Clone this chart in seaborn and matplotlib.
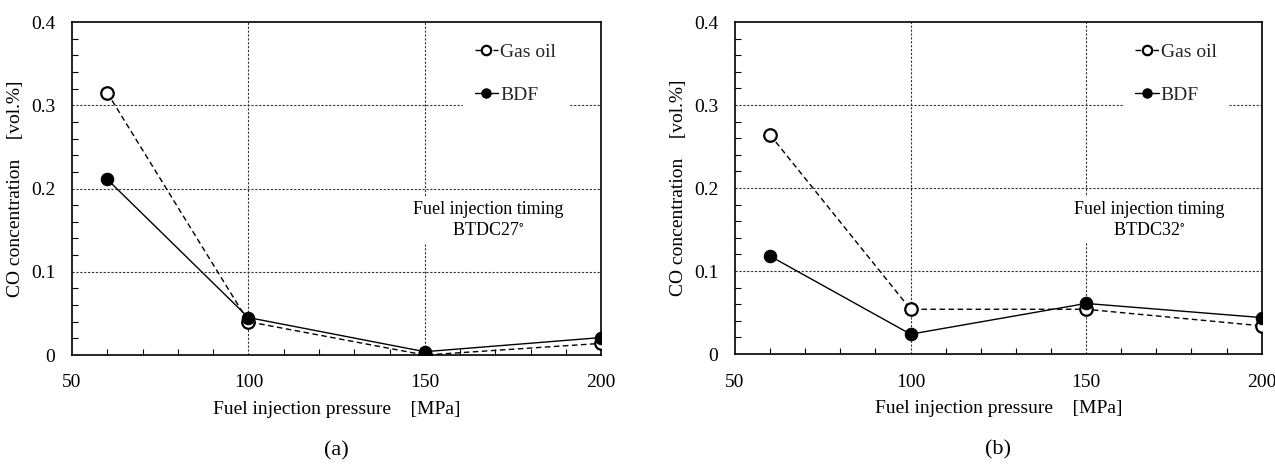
import matplotlib
matplotlib.use("Agg")
import matplotlib.pyplot as plt
import seaborn as sns
import pandas as pd
from matplotlib.ticker import MultipleLocator

sns.set_theme(style="white")
plt.rcParams['font.family'] = ['Liberation Serif', 'DejaVu Serif']
plt.rcParams['mathtext.fontset'] = 'stix'

pressure = [60, 100, 150, 200]
gas_oil_a = [0.315, 0.040, 0.000, 0.014]
bdf_a = [0.211, 0.045, 0.004, 0.021]
gas_oil_b = [0.264, 0.054, 0.054, 0.034]
bdf_b = [0.118, 0.024, 0.061, 0.044]
panel_labels = ["(a)", "(b)"]
timing_labels = ["Fuel injection timing\nBTDC27$^{\\circ}$", "Fuel injection timing\nBTDC32$^{\\circ}$"]
xlabel = "Fuel injection pressure    [MPa]"
ylabel = "CO concentration    [vol.%]"

fig = plt.figure(figsize=(12.75, 4.69), dpi=100)
ax_a = fig.add_axes([0.0565, 0.243, 0.415, 0.71])
ax_b = fig.add_axes([0.5765, 0.245, 0.413, 0.708])

grid_style = dict(color="#333333", ls=(0, (2, 1.5)), lw=0.8, zorder=0)

panels = [(ax_a, gas_oil_a, bdf_a), (ax_b, gas_oil_b, bdf_b)]
for i, (ax, go, bd) in enumerate(panels):
    df_go = pd.DataFrame({"x": pressure, "y": go})
    df_bd = pd.DataFrame({"x": pressure, "y": bd})
    for yv in [0.1, 0.2, 0.3]:
        ax.axhline(yv, **grid_style)
    for xv in [100, 150]:
        ax.axvline(xv, **grid_style)
    sns.lineplot(data=df_go, x="x", y="y", ax=ax, color="black", lw=1.0,
                 linestyle=(0, (4, 2.5)), marker="o", markersize=9,
                 markerfacecolor="white", markeredgecolor="black",
                 markeredgewidth=1.6, label="Gas oil", zorder=3)
    sns.lineplot(data=df_bd, x="x", y="y", ax=ax, color="black", lw=1.0,
                 marker="o", markersize=9, markerfacecolor="black",
                 markeredgecolor="black", label="BDF", zorder=4)
    ax.set_xlim(50, 200)
    ax.set_ylim(0, 0.4)
    ax.set_xticks([50, 100, 150, 200])
    ax.set_xticklabels(["50", "100", "150", "200"])
    ax.set_yticks([0, 0.1, 0.2, 0.3, 0.4])
    ax.set_yticklabels(["0", "0.1", "0.2", "0.3", "0.4"])
    ax.xaxis.set_minor_locator(MultipleLocator(10))
    ax.yaxis.set_minor_locator(MultipleLocator(0.02))
    ax.tick_params(axis="both", which="both", direction="in", color="black",
                   labelsize=14, labelcolor="black")
    ax.tick_params(axis="x", which="major", length=0, pad=14)
    ax.tick_params(axis="y", which="major", length=0, pad=12)
    ax.tick_params(which="minor", length=4, width=0.8)
    ax.tick_params(axis="x", which="minor", top=False, bottom=True)
    ax.tick_params(axis="y", which="minor", left=True, right=False)
    ax.set_xlabel(xlabel, fontsize=14, color="black", labelpad=7)
    ax.set_ylabel(ylabel, fontsize=14, color="black", labelpad=5)
    for sp in ax.spines.values():
        sp.set_color("black")
        sp.set_linewidth(1.2)
    leg = ax.legend(loc="upper right", bbox_to_anchor=(0.955, 1.0),
                    frameon=True, fontsize=14, handlelength=1.2,
                    handletextpad=0.1, labelspacing=1.3, borderpad=0.6,
                    markerscale=0.75)
    leg.get_frame().set_facecolor("white")
    leg.get_frame().set_edgecolor("white")
    leg.get_frame().set_boxstyle("square", pad=0.0)
    leg.get_frame().set_alpha(1)
    leg.set_zorder(5)
    ax.text(0.786, 0.405, timing_labels[i], transform=ax.transAxes, ha="center",
            va="center", fontsize=13, color="black", linespacing=1.3,
            bbox=dict(facecolor="white", edgecolor="none", pad=3), zorder=2)
    ax.text(0.5, -0.258, panel_labels[i], transform=ax.transAxes, ha="center",
            va="top", fontsize=16, color="black")

fig.savefig("out.png", dpi=100)
